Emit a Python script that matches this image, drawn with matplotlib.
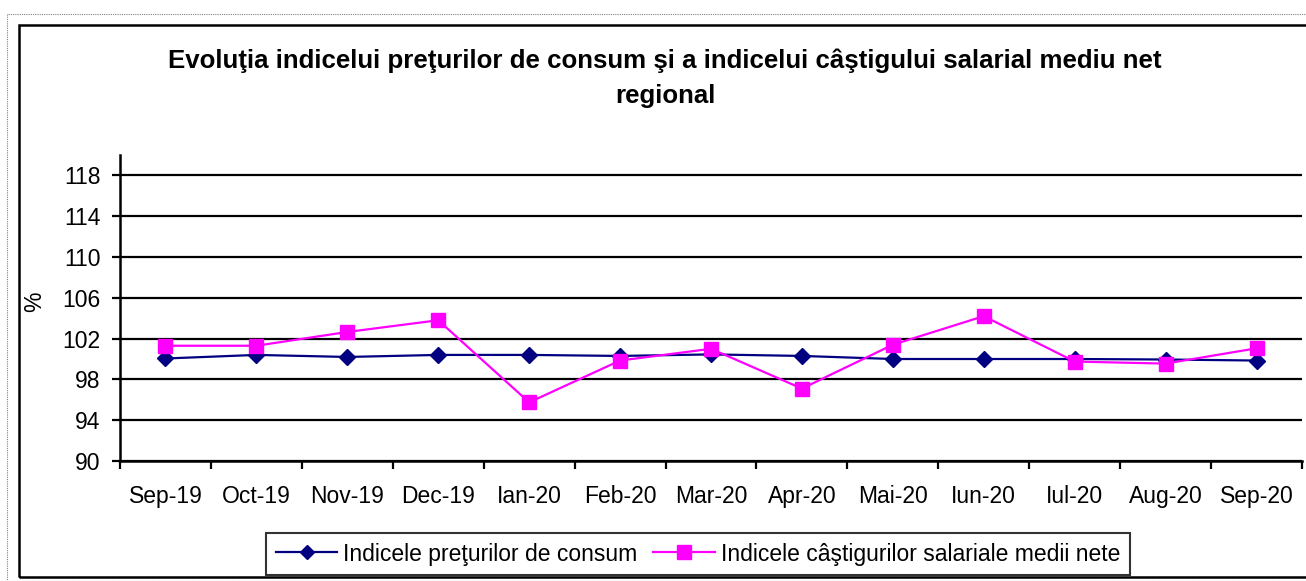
import matplotlib
matplotlib.use('Agg')
import matplotlib.pyplot as plt
from matplotlib.patches import Rectangle

plt.rcParams['font.family'] = ['Liberation Sans', 'DejaVu Sans']

months = ['Sep-19', 'Oct-19', 'Nov-19', 'Dec-19', 'Ian-20', 'Feb-20', 'Mar-20',
          'Apr-20', 'Mai-20', 'Iun-20', 'Iul-20', 'Aug-20', 'Sep-20']
cpi = [100.05, 100.4, 100.2, 100.4, 100.4, 100.3, 100.45,
       100.3, 100.0, 100.0, 100.0, 99.95, 99.85]
wages = [101.3, 101.3, 102.65, 103.8, 95.75, 99.85, 101.0,
         97.1, 101.4, 104.2, 99.75, 99.55, 101.05]
y_ticks = [90, 94, 98, 102, 106, 110, 114, 118]

W, H = 1306, 581
FS = 16.5
fig = plt.figure(figsize=(W / 100, H / 100), dpi=100)

# outer dotted border and solid chart frame
fig.patches.append(Rectangle((7 / W, 0), 1.1, (H - 14) / H, transform=fig.transFigure,
                             fill=False, ec='#808080', lw=0.8, ls=(0, (1, 1))))
fig.patches.append(Rectangle((19 / W, 4 / H), 1.1, (H - 29) / H, transform=fig.transFigure,
                             fill=False, ec='black', lw=1.8))

ax = fig.add_axes([120 / W, (H - 461) / H, (1302 - 120) / W, (461 - 155) / H])
x = [i + 0.5 for i in range(len(months))]

ax.plot(x, cpi, color='#000080', lw=1.6, marker='D', ms=8, mec='#000080', mfc='#000080',
        label='Indicele preţurilor de consum', zorder=3)
ax.plot(x, wages, color='#FF00FF', lw=1.6, marker='s', ms=10.5, mec='#FF00FF', mfc='#FF00FF',
        label='Indicele câştigurilor salariale medii nete', zorder=4)

ax.set_xlim(0, len(months))
ax.set_ylim(90, 120)
ax.set_yticks(y_ticks)
ax.set_yticklabels([str(v) for v in y_ticks], fontsize=FS)
ax.yaxis.grid(True, color='black', lw=1.6)
ax.set_axisbelow(True)

ax.set_xticks(range(len(months) + 1))
ax.set_xticklabels([])
ax.set_xticks(x, minor=True)
ax.set_xticklabels(months, minor=True, fontsize=FS)
ax.tick_params(axis='x', which='minor', length=0, pad=17)
ax.tick_params(axis='x', which='major', length=6, width=1.6)
ax.tick_params(axis='y', length=6, width=1.6, pad=8)

for side in ['top', 'right']:
    ax.spines[side].set_visible(False)
for side in ['left', 'bottom']:
    ax.spines[side].set_linewidth(1.8)

ax.set_ylabel('%', fontsize=FS)
ax.yaxis.set_label_coords((46 - 120) / (1302 - 120), 0.52)

fig.text(665 / W, 1 - 61 / H,
         'Evoluţia indicelui preţurilor de consum şi a indicelui câştigului salarial mediu net',
         ha='center', va='center', fontsize=18.6, fontweight='bold')
fig.text(665 / W, 1 - 96 / H, 'regional', ha='center', va='center', fontsize=18.6,
         fontweight='bold')

leg = fig.legend(loc='center', bbox_to_anchor=(698 / W, 1 - 554 / H), ncol=2,
                 fontsize=FS, frameon=True, fancybox=False, edgecolor='black',
                 handlelength=2.7, handletextpad=0.25, columnspacing=0.7,
                 borderpad=0.4, borderaxespad=0, markerscale=0.9)
leg.get_frame().set_linewidth(1.5)

fig.savefig('out.png', dpi=100)
